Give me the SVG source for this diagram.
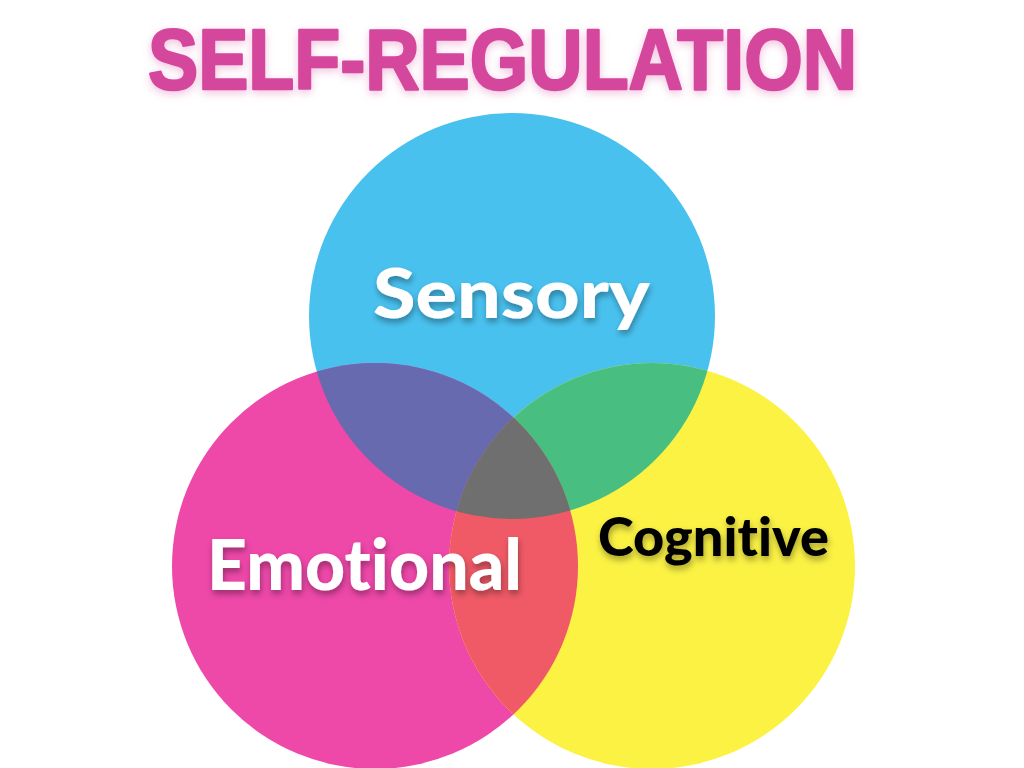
<svg xmlns="http://www.w3.org/2000/svg" width="1024" height="768" viewBox="0 0 1024 768">
  <defs>
    <filter id="titleGlow" x="-10%" y="-40%" width="120%" height="180%">
      <feGaussianBlur in="SourceAlpha" stdDeviation="4"/>
      <feOffset dx="0" dy="3" result="b"/>
      <feFlood flood-color="#e07ab8" flood-opacity="0.45"/>
      <feComposite in2="b" operator="in"/>
      <feMerge><feMergeNode/><feMergeNode in="SourceGraphic"/></feMerge>
    </filter>
    <filter id="textShadow" x="-10%" y="-40%" width="120%" height="180%">
      <feGaussianBlur in="SourceAlpha" stdDeviation="3"/>
      <feOffset dx="1" dy="4" result="b"/>
      <feFlood flood-color="#000" flood-opacity="0.35"/>
      <feComposite in2="b" operator="in"/>
      <feMerge><feMergeNode/><feMergeNode in="SourceGraphic"/></feMerge>
    </filter>
    <clipPath id="cBlue"><circle cx="512" cy="316" r="203"/></clipPath>
    <clipPath id="cPink"><circle cx="375" cy="566" r="203"/></clipPath>
  </defs>
  <style>
    .lbl { font-family: "Lato", "Open Sans", "Liberation Sans", sans-serif; font-weight: 900; font-variant-ligatures: none; font-feature-settings: "liga" 0, "clig" 0; }
    .title { font-family: "Liberation Sans", "Open Sans", sans-serif; font-weight: bold; fill: #d4479c; stroke: #d4479c; stroke-width: 2.5; stroke-linejoin: round; }
  </style>
  <rect width="1024" height="768" fill="#ffffff"/>

  <g id="title">
    <text class="title" x="148" y="89" font-size="86" textLength="709" lengthAdjust="spacingAndGlyphs" filter="url(#titleGlow)">SELF-REGULATION</text>
  </g>

  <g id="circle-sensory">
    <circle cx="512" cy="316" r="203" fill="#49c1ef"/>
  </g>
  <g id="circle-emotional">
    <circle cx="375" cy="566" r="203" fill="#ee48a9"/>
  </g>
  <g id="circle-cognitive">
    <circle cx="652" cy="566" r="203" fill="#fbf244"/>
  </g>

  <g id="overlaps">
    <g clip-path="url(#cBlue)"><circle cx="375" cy="566" r="203" fill="#676aae"/></g>
    <g clip-path="url(#cBlue)"><circle cx="652" cy="566" r="203" fill="#48bf80"/></g>
    <g clip-path="url(#cPink)"><circle cx="652" cy="566" r="203" fill="#ef5a66"/></g>
    <g clip-path="url(#cBlue)"><g clip-path="url(#cPink)"><circle cx="652" cy="566" r="203" fill="#6f6f6f"/></g></g>
  </g>

  <g id="labels">
    <text class="lbl" x="373" y="318" font-size="68" fill="#ffffff" textLength="277" lengthAdjust="spacingAndGlyphs" filter="url(#textShadow)">Sensory</text>
    <text class="lbl" x="207" y="590" font-size="71" fill="#ffffff" textLength="315" lengthAdjust="spacingAndGlyphs" filter="url(#textShadow)">Emotional</text>
    <text class="lbl" x="598" y="556" font-size="53" fill="#000000" textLength="231" lengthAdjust="spacingAndGlyphs" filter="url(#textShadow)">Cognitive</text>
  </g>
</svg>
